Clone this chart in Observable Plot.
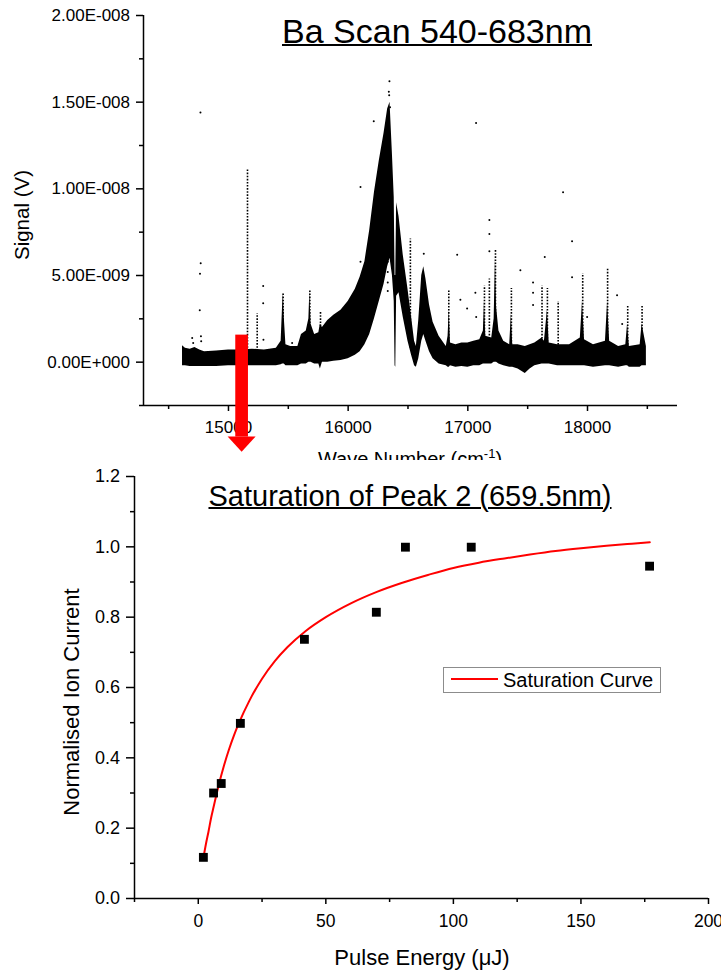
<!DOCTYPE html>
<html><head><meta charset="utf-8">
<script src="https://cdn.jsdelivr.net/npm/d3@7"></script>
<script src="https://cdn.jsdelivr.net/npm/@observablehq/plot@0.6"></script>
<style>
body{margin:0;background:#fff;font-family:"Liberation Sans",Arial,sans-serif;}
#wrap{position:relative;width:721px;height:971px;overflow:hidden;background:#fff;}
#top{position:absolute;left:0;top:0;width:721px;height:460px;overflow:hidden;}
#bot{position:absolute;left:0;top:460px;width:721px;height:511px;}
.lbl{position:absolute;white-space:nowrap;color:#000;line-height:1;}
</style></head><body>
<div id="wrap">
  <div id="top">
    <div class="lbl" style="left:410px;top:449px;font-size:20px;transform:translateX(-50%);">Wave Number (cm<sup style="font-size:13px;line-height:0;">-1</sup>)</div>
  </div>
  <div id="bot"></div>
  <div class="lbl" style="left:437px;top:14px;font-size:34px;transform:translateX(-50%);text-decoration:underline;text-decoration-thickness:2px;">Ba Scan 540-683nm</div>
  <div class="lbl" style="left:22px;top:215px;font-size:20.5px;transform:translate(-50%,-50%) rotate(-90deg);">Signal (V)</div>
  <div class="lbl" style="left:410px;top:482px;font-size:29px;transform:translateX(-50%);text-decoration:underline;text-decoration-thickness:2px;">Saturation of Peak 2 (659.5nm)</div>
  <div class="lbl" style="left:72px;top:702px;font-size:22px;transform:translate(-50%,-50%) rotate(-90deg);">Normalised Ion Current</div>
  <div class="lbl" style="left:422px;top:947px;font-size:22px;transform:translateX(-50%);">Pulse Energy (μJ)</div>
  <div style="position:absolute;left:443px;top:667px;width:216px;height:24px;border:1px solid #8c8c8c;background:#fff;"></div>
  <div style="position:absolute;left:451px;top:678px;width:47px;height:0;border-top:2px solid #ff0000;"></div>
  <div class="lbl" style="left:503px;top:670px;font-size:20px;">Saturation Curve</div>
</div>
<script>
// ---------- Top panel: Ba scan (signal in units of 1e-9 V) ----------
const bandWn = [14616,14640,14680,14720,14760,14800,14900,15000,15100,15200,15300,15400,15440,15452,15458,15466,15480,15520,15580,15610,15650,15672,15680,15690,15720,15755,15768,15785,15830,15880,15940,16000,16060,16100,16140,16180,16220,16260,16300,16330,16350,16370,16385,16392,16398,16405,16425,16460,16500,16530,16555,16570,16590,16615,16632,16650,16680,16710,16760,16820,16835,16845,16855,16900,16950,17000,17050,17100,17130,17139,17150,17200,17220,17231,17240,17260,17300,17350,17364,17375,17420,17480,17520,17560,17620,17640,17665,17680,17750,17850,17940,17958,17975,18050,18150,18168,18185,18260,18320,18335,18350,18440,18456,18492];
const bandLo = [-0.2,-0.2,-0.25,-0.25,-0.25,-0.25,-0.25,-0.2,-0.2,-0.2,-0.2,-0.2,-0.15,-0.1,-0.1,-0.1,-0.2,-0.2,-0.2,-0.1,-0.1,0,0,0,-0.1,-0.1,-0.4,0,0,0.05,0.1,0.2,0.4,0.6,1.0,1.6,2.5,3.5,4.5,5.5,6.0,5.0,3.5,-0.2,-0.3,3.8,4.0,2.6,1.2,0.4,-0.2,-0.3,0.2,1.2,1.6,1.2,0.6,0.2,-0.1,-0.2,-0.3,-0.3,-0.2,-0.3,-0.25,-0.3,-0.2,-0.2,-0.1,-0.1,-0.1,-0.1,0,0,0,-0.1,-0.2,-0.3,-0.3,-0.3,-0.4,-0.65,-0.4,-0.2,-0.1,-0.1,-0.1,-0.1,-0.2,-0.2,-0.2,-0.2,-0.2,-0.3,-0.2,-0.2,-0.2,-0.3,-0.2,-0.2,-0.3,-0.3,-0.2,-0.2];
const bandHi = [0.95,0.8,0.75,0.85,0.7,0.6,0.65,0.7,0.7,0.75,0.7,0.8,1.2,3.2,4.0,2.6,1.0,0.9,0.9,1.6,1.8,2.5,4.1,2.2,1.6,1.7,2.2,2.0,2.4,2.7,3.0,3.5,4.2,4.9,5.8,7.6,9.8,11.6,13.2,14.6,15.0,12.0,9.5,5.0,5.0,9.2,8.4,6.2,4.2,2.6,1.2,0.9,2.4,5.0,5.5,4.8,3.3,2.3,1.5,0.9,1.5,3.0,1.1,1.0,1.1,1.1,1.2,1.3,1.8,3.5,1.5,1.4,2.5,6.0,3.2,1.8,1.2,1.0,2.8,1.0,1.0,0.9,1.0,1.1,1.4,1.2,3.0,1.1,1.0,1.0,1.4,3.5,1.3,1.0,1.2,3.5,1.2,0.9,1.0,2.2,0.9,1.0,2.2,0.9];
const spikeWn = [15159,15240,15457,15680,15769,16520,16841,17139,17180,17231,17364,17620,17665,17755,17960,18168,18336,18456];
const spikeTop = [11.1,2.8,4.0,4.1,2.9,7.1,4.15,4.4,4.8,6.45,4.25,4.4,4.25,3.5,5.1,5.4,3.3,3.25];
const strayWn = [14697,14705,14760,14766,14768,14762,14770,14772,15290,15290,15292,15532,16103,16103,16214,16331,16331,16331,16331,16345,16340,16343,16350,16632,16911,16938,16994,17063,17069,17070,17180,17180,17180,17439,17545,17545,17545,17643,17796,17871,17871,17997,18247,18290];
const strayV = [1.4,1.1,3.0,14.4,5.7,5.1,1.5,1.2,4.4,3.4,1.3,1.1,10.1,5.8,13.9,5.8,5.2,4.6,4.1,16.2,15.6,15.4,14.7,6.26,6.2,3.6,3.1,4.0,13.8,2.6,8.2,7.4,6.4,5.3,4.6,4.0,3.3,6.07,9.8,6.97,4.9,2.6,3.86,2.2];
const scanXTicks = [15000,16000,17000,18000];
const scanXMinor = [14500,15500,16500,17500,18500];
const scanYTicks = [0,5,10,15,20];
const scanYLabels = ["0.00E+000","5.00E-009","1.00E-008","1.50E-008","2.00E-008"];
const scanYMinor = [-2.5,2.5,7.5,12.5,17.5];
const scanXDomain = [14290,18752];
const scanYDomain = [-2.5,20];
// red arrow annotation (wave number / signal units)
const arrowWn = 15114, arrowShaft = 53, arrowHead = 117, arrowTop = 1.56, arrowNeck = -4.32, arrowTip = -5.19;

// ---------- Bottom panel: saturation ----------
const energy = [2,6,9,16.5,41.6,69.8,81.2,107,176.9];
const ionCurrent = [0.117,0.30,0.327,0.498,0.737,0.814,0.999,0.999,0.945];
const fitEnergy = [2,3,4,5,6,8,10,12,14,16,20,25,30,35,42,50,60,70,80,90,100,110,120,130,140,150,160,170,177];
const fitCurrent = [0.115,0.155,0.19,0.228,0.26,0.322,0.376,0.423,0.464,0.50,0.562,0.625,0.675,0.715,0.76,0.80,0.84,0.872,0.898,0.92,0.94,0.955,0.967,0.978,0.988,0.996,1.003,1.009,1.013];
const satXTicks = [0,50,100,150,200];
const satXMinor = [-25,25,75,125,175];
const satYTicks = [0,0.2,0.4,0.6,0.8,1.0,1.2];
const satYMinor = [0.1,0.3,0.5,0.7,0.9,1.1];

const FONT = '"Liberation Sans", Arial, sans-serif';

const band = bandWn.map((w,i)=>({w, lo: bandLo[i], hi: bandHi[i]}));
const spikes = spikeWn.map((w,i)=>({w, top: spikeTop[i]}));
const strays = strayWn.map((w,i)=>({w, v: strayV[i]}));
const arrowHeadPts = [
  {x: arrowWn-arrowHead, a: arrowNeck, b: arrowNeck},
  {x: arrowWn, a: arrowNeck, b: arrowTip},
  {x: arrowWn+arrowHead, a: arrowNeck, b: arrowNeck}
];

const topPlot = Plot.plot({
  width: 721, height: 480,
  marginLeft: 143, marginRight: 44, marginTop: 15, marginBottom: 75,
  x: {domain: scanXDomain},
  y: {domain: scanYDomain},
  style: {fontFamily: FONT, fontSize: "17px", color: "#000", background: "transparent"},
  marks: [
    Plot.areaY(band, {x: "w", y1: "lo", y2: "hi", fill: "#000", curve: "linear"}),
    Plot.ruleX(spikes, {x: "w", y1: 0.8, y2: "top", stroke: "#000", strokeWidth: 1.6, strokeDasharray: "1.6,1.5"}),
    Plot.dot(strays, {x: "w", y: "v", r: 1, fill: "#000", stroke: null}),
    Plot.ruleX([scanXDomain[0]], {y1: scanYDomain[0], y2: scanYDomain[1], stroke: "#000", strokeWidth: 1.5}),
    Plot.ruleY([scanYDomain[0]], {x1: scanXDomain[0], x2: scanXDomain[1], stroke: "#000", strokeWidth: 1.5}),
    Plot.axisX(scanXTicks, {tickSize: 6, tickPadding: 9.5, fontSize: 17, strokeWidth: 1.5, label: null, tickFormat: d => String(d)}),
    Plot.axisX(scanXMinor, {tickSize: 4, strokeWidth: 1.5, label: null, tickFormat: () => ""}),
    Plot.axisY(scanYTicks, {tickSize: 7, tickPadding: 6.5, fontSize: 17, strokeWidth: 1.5, label: null, tickFormat: d => scanYLabels[scanYTicks.indexOf(d)]}),
    Plot.axisY(scanYMinor, {tickSize: 4, strokeWidth: 1.5, label: null, tickFormat: () => ""}),
    Plot.rect([0], {x1: arrowWn-arrowShaft, x2: arrowWn+arrowShaft, y1: arrowNeck, y2: arrowTop, fill: "#ff0000"}),
    Plot.areaY(arrowHeadPts, {x: "x", y1: "a", y2: "b", fill: "#ff0000", curve: "linear"})
  ]
});
document.getElementById("top").prepend(topPlot);

const pts = energy.map((e,i)=>({e, c: ionCurrent[i]}));
const fit = fitEnergy.map((e,i)=>({e, c: fitCurrent[i]}));

const satPlot = Plot.plot({
  width: 721, height: 511,
  marginLeft: 134, marginRight: 13, marginTop: 16, marginBottom: 73,
  x: {domain: [-25, 200]},
  y: {domain: [0, 1.2]},
  style: {fontFamily: FONT, fontSize: "17.5px", color: "#000", background: "transparent"},
  marks: [
    Plot.ruleX([-25], {y1: 0, y2: 1.2, stroke: "#000", strokeWidth: 1.5}),
    Plot.ruleY([0], {x1: -25, x2: 200, stroke: "#000", strokeWidth: 1.5}),
    Plot.axisX(satXTicks, {tickSize: 6, tickPadding: 10.5, fontSize: 17.5, strokeWidth: 1.5, label: null, tickFormat: d => String(d)}),
    Plot.axisX(satXMinor, {tickSize: 4, strokeWidth: 1.5, label: null, tickFormat: () => ""}),
    Plot.axisY(satYTicks, {tickSize: 8, tickPadding: 6.5, fontSize: 18, strokeWidth: 1.5, label: null, tickFormat: d => d.toFixed(1)}),
    Plot.axisY(satYMinor, {tickSize: 4, strokeWidth: 1.5, label: null, tickFormat: () => ""}),
    Plot.line(fit, {x: "e", y: "c", stroke: "#ff0000", strokeWidth: 2, curve: "monotone-x"}),
    Plot.dot(pts, {x: "e", y: "c", symbol: "square", r: 5, fill: "#000", stroke: null})
  ]
});
document.getElementById("bot").append(satPlot);
</script>
</body></html>
